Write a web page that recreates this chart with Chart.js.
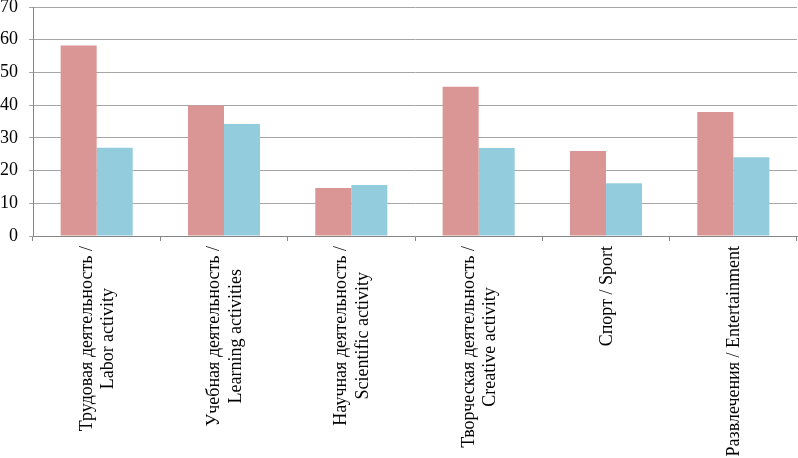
<!DOCTYPE html>
<html>
<head>
<meta charset="utf-8">
<script src="https://cdn.jsdelivr.net/npm/chart.js@4/dist/chart.umd.min.js"></script>
<style>
  html, body { margin: 0; padding: 0; background: #ffffff; }
  #wrap { width: 798px; height: 458px; position: relative; }
</style>
</head>
<body>
<div id="wrap"><canvas id="c"></canvas></div>
<script>
const categories = [
  ['Трудовая деятельность /', 'Labor activity'],
  ['Учебная деятельность /', 'Learning activities'],
  ['Научная деятельность /', 'Scientific activity'],
  ['Творческая деятельность /', 'Creative activity'],
  ['Спорт / Sport'],
  ['Развлечения / Entertainment']
];
const series1Name = 'Ряд 1';
const series2Name = 'Ряд 2';
const series1 = [58.2, 39.9, 14.7, 45.6, 26.0, 37.9];
const series2 = [27.0, 34.2, 15.6, 26.9, 16.1, 24.1];
const yMin = 0, yMax = 70, yStep = 10;

const FONT = '"Liberation Serif", "Times New Roman", serif';
const FS = 18;
const LH = 21.6;

// Draws the category labels rotated, with lines centred within each block,
// positioned from the x scale's own tick pixels.
const centeredLabels = {
  id: 'centeredLabels',
  afterDraw(chart) {
    const sc = chart.scales.x;
    const ctx = chart.ctx;
    ctx.save();
    ctx.font = FS + 'px ' + FONT;
    ctx.fillStyle = '#000000';
    ctx.textBaseline = 'middle';
    ctx.textAlign = 'center';
    sc.ticks.forEach((t, i) => {
      const lines = [].concat(chart.data.labels[i]);
      const x = sc.getPixelForTick(i);
      const maxW = Math.max(...lines.map(l => ctx.measureText(l).width));
      ctx.save();
      ctx.translate(x + 1, sc.top + 10);
      ctx.rotate(-Math.PI / 2);
      lines.forEach((l, j) => {
        ctx.fillText(l, -maxW / 2, (j - (lines.length - 1) / 2) * LH);
      });
      ctx.restore();
    });
    ctx.restore();
  }
};

new Chart(document.getElementById('c'), {
  type: 'bar',
  data: {
    labels: categories,
    datasets: [
      { label: series1Name, data: series1, backgroundColor: '#D99694', borderWidth: 0 },
      { label: series2Name, data: series2, backgroundColor: '#93CDDD', borderWidth: 0 }
    ]
  },
  options: {
    responsive: true,
    maintainAspectRatio: false,
    animation: false,
    layout: { padding: { left: 0, right: 1, top: 0, bottom: 0 } },
    plugins: {
      legend: { display: false },
      tooltip: { enabled: false }
    },
    datasets: { bar: { categoryPercentage: 0.566, barPercentage: 1.0 } },
    scales: {
      x: {
        offset: true,
        grid: { offset: true, drawOnChartArea: false, drawTicks: true, tickLength: 5, color: '#868686' },
        border: { display: true, color: '#868686', width: 1 },
        ticks: {
          autoSkip: false,
          maxRotation: 90,
          minRotation: 90,
          padding: 5,
          color: 'rgba(0,0,0,0)',
          font: { family: FONT, size: FS }
        },
        afterFit(scale) {
          scale.height = 222;
          scale.paddingLeft = 0;
          scale.paddingRight = 0;
        }
      },
      y: {
        min: yMin,
        max: yMax,
        grid: { color: '#A6A6A6', tickLength: 4, drawTicks: true },
        border: { display: true, color: '#868686', width: 1 },
        ticks: {
          stepSize: yStep,
          padding: 11,
          color: '#000000',
          font: { family: FONT, size: FS }
        },
        afterFit(scale) {
          scale.width = 33;
          scale.paddingTop = 7;
          scale.paddingBottom = 0;
        }
      }
    }
  },
  plugins: [centeredLabels]
});
</script>
</body>
</html>
